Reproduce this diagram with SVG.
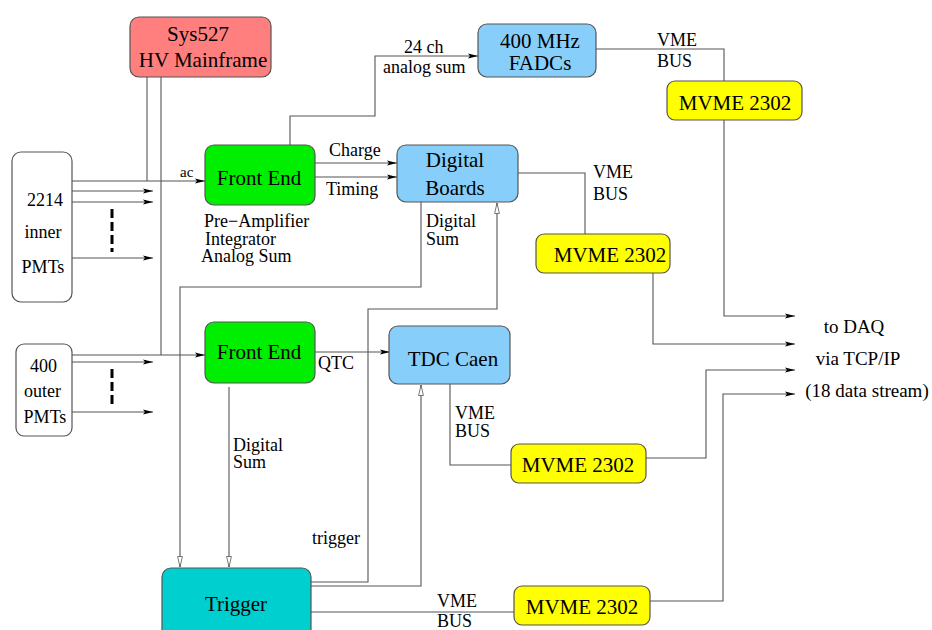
<svg xmlns="http://www.w3.org/2000/svg" width="932" height="630" viewBox="0 0 932 630">
<defs>
<style>
.box{stroke:#555;stroke-width:1.2}
.t{font-family:'Liberation Serif','DejaVu Serif',serif;font-size:21px;fill:#000}
.s{font-family:'Liberation Serif','DejaVu Serif',serif;font-size:18px;fill:#000}
.c{text-anchor:middle}
.ln{fill:none;stroke:#555;stroke-width:1.1}
.fa{marker-end:url(#fa)}
.oa{marker-end:url(#oa)}
.dash{fill:none;stroke:#000;stroke-width:3;stroke-dasharray:9,4}
</style>
<marker id="fa" markerUnits="userSpaceOnUse" markerWidth="12" markerHeight="8" refX="10" refY="3" orient="auto">
<path d="M0,0.5 L10,3 L0,5.5 L2,3 z" fill="#000"/>
</marker>
<marker id="oa" markerUnits="userSpaceOnUse" markerWidth="13" markerHeight="8" refX="11" refY="3" orient="auto">
<path d="M0.5,0.6 L11,3 L0.5,5.4 z" fill="#fff" stroke="#555" stroke-width="0.8"/>
</marker>
</defs>
<rect width="932" height="630" fill="#fff"/>

<g id="connectors">
<path class="ln" d="M147,77 V181"/>
<path class="ln" d="M161,77 V355"/>
<path class="ln fa" d="M72,181 H205"/>
<path class="ln fa" d="M72,191 H153"/>
<path class="ln fa" d="M72,202 H153"/>
<path class="ln fa" d="M72,258 H153"/>
<path class="dash" d="M112,209 V252"/>
<path class="ln fa" d="M72,355 H205"/>
<path class="ln fa" d="M72,362 H153"/>
<path class="ln fa" d="M72,412 H153"/>
<path class="dash" d="M112,369 V405"/>
<path class="ln fa" d="M290,145 V116 H375 V56 H478"/>
<path class="ln fa" d="M315,163 H397"/>
<path class="ln fa" d="M315,177 H397"/>
<path class="ln" d="M596,49 H724 V81"/>
<path class="ln fa" d="M724,120 V316 H795"/>
<path class="ln" d="M518,173 H585 V234"/>
<path class="ln fa" d="M653,273 V344 H795"/>
<path class="ln oa" d="M421,202 V287 H180 V567"/>
<path class="ln oa" d="M229,387 V567"/>
<path class="ln fa" d="M315,352 H390"/>
<path class="ln" d="M450,384 V465 H511"/>
<path class="ln fa" d="M646,458 H706 V370 H795"/>
<path class="ln oa" d="M311,582 H368 V309 H497 V203"/>
<path class="ln oa" d="M311,586 H421 V385"/>
<path class="ln" d="M311,612 H514"/>
<path class="ln fa" d="M650,601 H723 V394 H795"/>
</g>

<g id="sys527">
<rect class="box" x="130" y="17" width="141" height="60" rx="9" fill="#ff7f7f"/>
<text class="t c" x="198" y="41">Sys527</text>
<text class="t c" x="203" y="67">HV Mainframe</text>
</g>

<g id="inner-pmts">
<rect class="box" x="12" y="152" width="60" height="150" rx="9" fill="#fff"/>
<text class="s c" x="45" y="206">2214</text>
<text class="s c" x="43" y="238">inner</text>
<text class="s c" x="43" y="273">PMTs</text>
</g>

<g id="outer-pmts">
<rect class="box" x="16" y="344" width="56" height="92" rx="8" fill="#fff"/>
<text class="s c" x="43.5" y="372">400</text>
<text class="s c" x="42.5" y="397">outer</text>
<text class="s c" x="45" y="423">PMTs</text>
</g>

<g id="front-end-1">
<rect class="box" x="205" y="145" width="110" height="60" rx="9" fill="#00ee00"/>
<text class="t c" x="259" y="185">Front End</text>
</g>
<g id="front-end-1-labels">
<text class="s" x="204" y="227">Pre−Amplifier</text>
<text class="s" x="205" y="245">Integrator</text>
<text class="s" x="201" y="262">Analog Sum</text>
<text class="s" x="180" y="177" style="font-size:15px">ac</text>
</g>

<g id="front-end-2">
<rect class="box" x="205" y="322" width="110" height="61" rx="9" fill="#00ee00"/>
<text class="t c" x="259" y="359">Front End</text>
</g>

<g id="fadc">
<rect class="box" x="478" y="24" width="118" height="53" rx="9" fill="#87cefa"/>
<text class="t c" x="540" y="48">400 MHz</text>
<text class="t c" x="540" y="70">FADCs</text>
</g>

<g id="digital-boards">
<rect class="box" x="397" y="145" width="121" height="57" rx="9" fill="#87cefa"/>
<text class="t c" x="455" y="167">Digital</text>
<text class="t c" x="455" y="195">Boards</text>
</g>

<g id="tdc">
<rect class="box" x="389" y="326" width="121" height="58" rx="9" fill="#87cefa"/>
<text class="t c" x="453" y="366">TDC Caen</text>
</g>

<g id="mvme-1">
<rect class="box" x="667" y="81" width="135" height="39" rx="8" fill="#ffff00"/>
<text class="t c" x="735" y="110">MVME 2302</text>
</g>
<g id="mvme-2">
<rect class="box" x="536" y="234" width="134" height="39" rx="8" fill="#ffff00"/>
<text class="t c" x="610" y="262">MVME 2302</text>
</g>
<g id="mvme-3">
<rect class="box" x="511" y="444" width="135" height="39" rx="8" fill="#ffff00"/>
<text class="t c" x="578" y="472">MVME 2302</text>
</g>
<g id="mvme-4">
<rect class="box" x="514" y="586" width="136" height="39" rx="8" fill="#ffff00"/>
<text class="t c" x="582" y="614">MVME 2302</text>
</g>

<g id="trigger">
<rect class="box" x="162" y="568" width="149" height="80" rx="9" fill="#00cfcf"/>
<text class="t c" x="236" y="611">Trigger</text>
</g>

<g id="labels">
<text class="s" x="404" y="53">24 ch</text>
<text class="s" x="383" y="73">analog sum</text>
<text class="s" x="657" y="46">VME</text>
<text class="s" x="657" y="67">BUS</text>
<text class="s" x="329" y="156">Charge</text>
<text class="s" x="326" y="195">Timing</text>
<text class="s" x="593" y="178">VME</text>
<text class="s" x="593" y="200">BUS</text>
<text class="s" x="426" y="227">Digital</text>
<text class="s" x="426" y="245">Sum</text>
<text class="s" x="318" y="369">QTC</text>
<text class="s" x="455" y="419">VME</text>
<text class="s" x="455" y="437">BUS</text>
<text class="s" x="233" y="451">Digital</text>
<text class="s" x="233" y="468">Sum</text>
<text class="s" x="312" y="544">trigger</text>
<text class="s" x="437" y="607">VME</text>
<text class="s" x="437" y="627">BUS</text>
</g>

<g id="daq">
<text class="s c" x="854" y="333" style="font-size:19px">to DAQ</text>
<text class="s c" x="858" y="365" style="font-size:19px">via TCP/IP</text>
<text class="s c" x="867" y="397" style="font-size:19px">(18 data stream)</text>
</g>
</svg>
